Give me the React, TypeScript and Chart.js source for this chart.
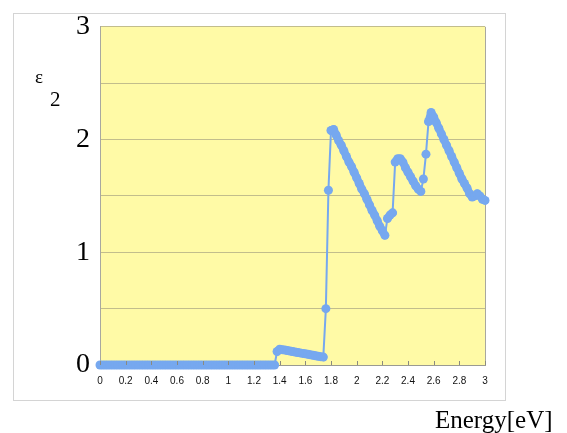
import React, { useEffect, useRef } from "react";
import { Chart, registerables } from "chart.js";

Chart.register(...registerables);

const energies: number[] = [
  0.00, 0.02, 0.04, 0.06, 0.08, 0.10, 0.12, 0.14, 0.16, 0.18,
  0.20, 0.22, 0.24, 0.26, 0.28, 0.30, 0.32, 0.34, 0.36, 0.38,
  0.40, 0.42, 0.44, 0.46, 0.48, 0.50, 0.52, 0.54, 0.56, 0.58,
  0.60, 0.62, 0.64, 0.66, 0.68, 0.70, 0.72, 0.74, 0.76, 0.78,
  0.80, 0.82, 0.84, 0.86, 0.88, 0.90, 0.92, 0.94, 0.96, 0.98,
  1.00, 1.02, 1.04, 1.06, 1.08, 1.10, 1.12, 1.14, 1.16, 1.18,
  1.20, 1.22, 1.24, 1.26, 1.28, 1.30, 1.32, 1.34, 1.36, 1.38,
  1.40, 1.42, 1.44, 1.46, 1.48, 1.50, 1.52, 1.54, 1.56, 1.58,
  1.60, 1.62, 1.64, 1.66, 1.68, 1.70, 1.72, 1.74, 1.76, 1.78,
  1.80, 1.82, 1.84, 1.86, 1.88, 1.90, 1.92, 1.94, 1.96, 1.98,
  2.00, 2.02, 2.04, 2.06, 2.08, 2.10, 2.12, 2.14, 2.16, 2.18,
  2.20, 2.22, 2.24, 2.26, 2.28, 2.30, 2.32, 2.34, 2.36, 2.38,
  2.40, 2.42, 2.44, 2.46, 2.48, 2.50, 2.52, 2.54, 2.56, 2.58,
  2.60, 2.62, 2.64, 2.66, 2.68, 2.70, 2.72, 2.74, 2.76, 2.78,
  2.80, 2.82, 2.84, 2.86, 2.88, 2.90, 2.92, 2.94, 2.96, 2.98,
  3.00, 3.01,
];

const eps2: number[] = [
  0, 0, 0, 0, 0, 0, 0, 0, 0, 0,
  0, 0, 0, 0, 0, 0, 0, 0, 0, 0,
  0, 0, 0, 0, 0, 0, 0, 0, 0, 0,
  0, 0, 0, 0, 0, 0, 0, 0, 0, 0,
  0, 0, 0, 0, 0, 0, 0, 0, 0, 0,
  0, 0, 0, 0, 0, 0, 0, 0, 0, 0,
  0, 0, 0, 0, 0, 0, 0, 0, 0, 0.12,
  0.14, 0.136, 0.132, 0.128, 0.124, 0.12, 0.115, 0.111, 0.107, 0.103,
  0.099, 0.095, 0.09, 0.086, 0.082, 0.078, 0.074, 0.07, 0.5, 1.55,
  2.08, 2.09, 2.04, 1.99, 1.95, 1.9, 1.85, 1.8, 1.76, 1.71,
  1.66, 1.61, 1.56, 1.52, 1.47, 1.42, 1.37, 1.33, 1.28, 1.23,
  1.19, 1.15, 1.3, 1.33, 1.35, 1.8, 1.83, 1.83, 1.8, 1.75,
  1.71, 1.67, 1.63, 1.59, 1.56, 1.54, 1.65, 1.87, 2.16, 2.24,
  2.2, 2.15, 2.1, 2.05, 2.0, 1.95, 1.9, 1.85, 1.8, 1.75,
  1.7, 1.65, 1.61, 1.57, 1.52, 1.49, 1.5, 1.52, 1.5, 1.47,
  1.46, 2.05,
];

const xTicks: number[] = [0, 0.2, 0.4, 0.6, 0.8, 1, 1.2, 1.4, 1.6, 1.8, 2, 2.2, 2.4, 2.6, 2.8, 3];
const yLabels: number[] = [0, 1, 2, 3];

const LINE_COLOR = "#76a8ef";
const YELLOW = "#fffaa6";

const decorPlugin = {
  id: "decor",
  beforeDraw(chart: any) {
    const { ctx, chartArea } = chart;
    ctx.save();
    ctx.fillStyle = "#ffffff";
    ctx.fillRect(0, 0, chart.width, chart.height);
    ctx.strokeStyle = "#d4d4d4";
    ctx.lineWidth = 1;
    ctx.strokeRect(13.5, 13.5, 492, 387);
    ctx.fillStyle = YELLOW;
    ctx.fillRect(chartArea.left, chartArea.top, chartArea.right - chartArea.left, chartArea.bottom - chartArea.top);
    ctx.strokeStyle = "#a8a8a0";
    ctx.beginPath();
    ctx.moveTo(chartArea.right + 0.5, chartArea.top);
    ctx.lineTo(chartArea.right + 0.5, chartArea.bottom);
    ctx.stroke();
    ctx.restore();
  },
  afterDatasetsDraw(chart: any) {
    const { ctx, chartArea, scales } = chart;
    ctx.save();
    ctx.strokeStyle = "#8a8a80";
    ctx.lineWidth = 1;
    for (const t of xTicks) {
      const px = Math.round(scales.x.getPixelForValue(t)) + 0.5;
      ctx.beginPath();
      ctx.moveTo(px, chartArea.bottom);
      ctx.lineTo(px, chartArea.bottom - 4);
      ctx.stroke();
    }
    ctx.fillStyle = "#000000";
    ctx.textBaseline = "alphabetic";
    ctx.textAlign = "left";
    ctx.font = "19px 'Liberation Serif', 'DejaVu Serif', serif";
    ctx.fillText("\u03b5", 35, 83);
    ctx.font = "21px 'Liberation Serif', 'DejaVu Serif', serif";
    ctx.fillText("2", 50, 106);
    ctx.font = "25px 'Liberation Serif', 'DejaVu Serif', serif";
    ctx.fillText("Energy[eV]", 435, 428);
    ctx.restore();
  },
};

export default function App() {
  const canvasRef = useRef<HTMLCanvasElement | null>(null);

  useEffect(() => {
    if (!canvasRef.current) return;
    const points = energies.map((e, i) => ({ x: e, y: eps2[i] }));
    const lastIdx = points.length - 1;
    const chart = new Chart(canvasRef.current, {
      type: "line",
      data: {
        datasets: [
          {
            data: points,
            borderColor: LINE_COLOR,
            backgroundColor: LINE_COLOR,
            borderWidth: 8,
            borderCapStyle: "round",
            borderJoinStyle: "round",
            pointRadius: points.map((_, i) => (i === lastIdx ? 0 : 4.5)),
            pointBorderWidth: 0,
            pointBackgroundColor: LINE_COLOR,
            tension: 0,
            clip: false as any,
            segment: {
              borderWidth: (c: any) => {
                if (c.p1DataIndex === lastIdx) return 1;
                const dy = Math.abs(eps2[c.p1DataIndex] - eps2[c.p0DataIndex]);
                return dy > 0.1 ? 2 : 8;
              },
            },
          } as any,
        ],
      },
      plugins: [decorPlugin],
      options: {
        animation: false,
        responsive: false,
        events: [],
        layout: { padding: { left: 0, top: 25, right: 82, bottom: 0 } },
        plugins: { legend: { display: false }, tooltip: { enabled: false } },
        scales: {
          x: {
            type: "linear",
            min: 0,
            max: 3,
            afterFit: (s: any) => {
              s.height = 68;
            },
            afterBuildTicks: (s: any) => {
              s.ticks = xTicks.map((v) => ({ value: v }));
            },
            ticks: {
              autoSkip: false,
              maxRotation: 0,
              padding: 10,
              color: "#111111",
              font: { family: "'Liberation Sans', Arial, sans-serif", size: 10 },
              callback: (v: any) => String(Number(Number(v).toFixed(1))),
            },
            grid: { display: false, drawTicks: false },
            border: { display: true, color: "#9a9a92", width: 1 },
          },
          y: {
            type: "linear",
            min: 0,
            max: 3,
            afterFit: (s: any) => {
              s.width = 100;
            },
            ticks: {
              stepSize: 0.5,
              autoSkip: false,
              padding: 10,
              color: "#000000",
              font: { family: "'Liberation Serif', 'DejaVu Serif', serif", size: 28 },
              callback: (v: any) => (yLabels.includes(Number(v)) ? String(v) : ""),
            },
            grid: { color: "#c2bd8c", lineWidth: 1, drawTicks: false },
            border: { display: true, color: "#a8a8a0", width: 1 },
          },
        },
      },
    });
    return () => chart.destroy();
  }, []);

  return (
    <div style={{ position: "fixed", left: 0, top: 0, width: 567, height: 433, background: "#ffffff" }}>
      <canvas ref={canvasRef} width={567} height={433} style={{ display: "block", width: 567, height: 433 }} />
    </div>
  );
}
